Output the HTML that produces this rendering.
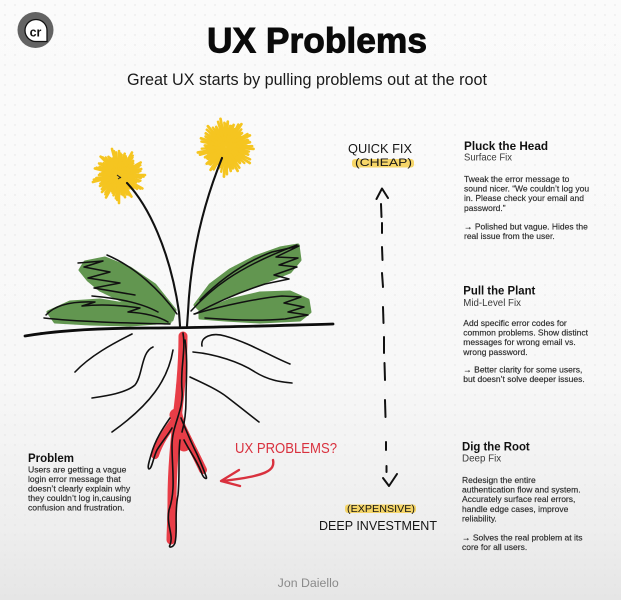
<!DOCTYPE html>
<html>
<head>
<meta charset="utf-8">
<style>
html,body{margin:0;padding:0;}
body{width:621px;height:600px;overflow:hidden;background:#fafafa;}
svg{display:block;}
</style>
</head>
<body>
<svg width="621" height="600" viewBox="0 0 621 600" xmlns="http://www.w3.org/2000/svg" font-family="'Liberation Sans', sans-serif">
  <defs>
    <linearGradient id="bg" x1="0" y1="0" x2="0" y2="1">
      <stop offset="0" stop-color="#fbfbfb"/>
      <stop offset="0.62" stop-color="#f8f8f8"/>
      <stop offset="0.88" stop-color="#eeeeee"/>
      <stop offset="1" stop-color="#e6e6e6"/>
    </linearGradient>
    <pattern id="dots" width="10" height="10" patternUnits="userSpaceOnUse">
      <circle cx="5" cy="5" r="0.7" fill="#dedede"/>
    </pattern>
    <g id="burst" fill="none" stroke="#f5c520" stroke-width="2.6" stroke-linecap="round">
      <path d="M3,0L26,0 M3,1L21.3,5.7 M3,2L23.4,13.5 M2,2L14.1,14.1 M1,3L12.5,21.7 M1,3L6,22.2 M0,3L0,28 M-1,3L-5.4,20.3 M-2,3L-13,22.5 M-2,2L-17,17 M-3,2L-19,11 M-3,1L-26.1,7 M-3,0L-20,0 M-3,-1L-24.1,-6.5 M-3,-2L-19.9,-11.5 M-2,-2L-18.4,-18.4 M-2,-3L-10.5,-18.2 M-1,-3L-7,-26.1 M0,-3L0,-24 M1,-3L5.7,-21.3 M2,-3L13,-22.5 M2,-2L14.1,-14.1 M3,-2L21.7,-12.5 M3,-1L22.2,-6"/>
    </g>
  </defs>

  <!-- background -->
  <rect width="621" height="600" fill="url(#bg)"/>
  <rect width="621" height="600" fill="url(#dots)" opacity="0.8"/>

  <!-- logo -->
  <circle cx="35.5" cy="30" r="18" fill="#636363"/>
  <path d="M25,30.5 A11,11 0 0 1 36,19.5 A11,11 0 0 1 47,30.5 L47,41.5 L36,41.5 A11,11 0 0 1 25,30.5 Z" fill="#fff" stroke="#111" stroke-width="1.3"/>
  <text x="35.5" y="36.5" font-size="12.5" font-weight="bold" fill="#111" text-anchor="middle">cr</text>

  <!-- title -->
  <text x="207" y="52.3" font-size="35" font-weight="bold" fill="#0a0a0a" stroke="#0a0a0a" stroke-width="0.9" textLength="220" lengthAdjust="spacingAndGlyphs">UX Problems</text>
  <text x="127" y="85" font-size="16.2" fill="#1a1a1a" textLength="360" lengthAdjust="spacingAndGlyphs">Great UX starts by pulling problems out at the root</text>

  <!-- flowers -->
  <g transform="translate(119,175)">
    <circle r="10" fill="#f6c829"/>
    <use href="#burst"/>
    <use href="#burst" transform="rotate(8) scale(0.85)"/>
    <use href="#burst" transform="rotate(4) scale(0.95,0.9)"/>
    <use href="#burst" transform="rotate(-5) scale(0.6)"/>
    <use href="#burst" transform="rotate(11) scale(0.4)"/>
  </g>
  <g transform="translate(226,147) scale(1.06)">
    <circle r="10" fill="#f6c829"/>
    <use href="#burst" transform="rotate(4)"/>
    <use href="#burst" transform="rotate(11) scale(0.85)"/>
    <use href="#burst" transform="rotate(-2) scale(0.95,0.92)"/>
    <use href="#burst" transform="rotate(-3) scale(0.6)"/>
    <use href="#burst" transform="rotate(7) scale(0.4)"/>
  </g>
  <path d="M117,175 l4,3 M118,179 l3,-2" stroke="#222" stroke-width="1" fill="none"/>

  <!-- stems -->
  <path d="M127,183 C148,205 170,250 179,312 L180,326" fill="none" stroke="#111" stroke-width="2.1" stroke-linecap="round"/>
  <path d="M222,158 C205,200 191,250 188,312 L187,326" fill="none" stroke="#111" stroke-width="2.1" stroke-linecap="round"/>

  <!-- leaves green -->
  <g fill="#568e42" stroke="#568e42" stroke-width="3" stroke-linejoin="round" opacity="0.92">
    <path d="M85,262 L105,258 L130,268 L155,285 L175,310 L172,320 L150,315 L125,302 L100,290 L88,280 L80,270 Z"/>
    <path d="M48,312 L70,302 L100,300 L130,305 L155,312 L170,322 L130,325 L90,324 L55,322 Z"/>
    <path d="M195,305 L210,285 L230,270 L255,257 L280,248 L298,245 L300,260 L290,272 L270,280 L245,290 L220,300 L200,310 Z"/>
    <path d="M200,312 L230,300 L260,293 L290,292 L308,300 L310,312 L300,320 L260,322 L225,320 L200,318 Z"/>
  </g>
  <!-- leaf scribbles -->
  <g fill="none" stroke="#111" stroke-width="1.5" stroke-linecap="round" stroke-linejoin="round">
    <path d="M107,255 C135,267 160,290 177,314"/>
    <path d="M78,263 L103,261 L84,267 L110,272 L88,278 L120,283 L94,288 L135,295"/>
    <path d="M46,315 C55,305 72,301 95,302 L82,306 C100,304 120,305 140,308 L128,312 C145,313 158,316 168,322"/>
    <path d="M44,318 C80,322 130,323 170,324"/>
    <path d="M92,296 C115,298 140,302 158,312"/>
    <path d="M191,311 C210,290 235,268 297,245"/>
    <path d="M200,300 C220,280 245,262 272,252 L299,246 L276,257 L298,258 L279,265 L297,267 L274,275 L289,279 L265,284 C240,292 215,303 195,314"/>
    <path d="M194,314 C225,305 260,298 282,296 L301,297 L284,303 L304,307 L288,312 L308,315 L285,319 C260,321 230,320 205,318"/>
  </g>

  <!-- ground -->
  <path d="M25,336 C60,330 100,328 150,328 C200,328 260,326 333,324" fill="none" stroke="#0d0d0d" stroke-width="2.8" stroke-linecap="round"/>
  <path d="M40,333 C90,329 150,327 210,327" fill="none" stroke="#0d0d0d" stroke-width="1.2"/>

  <!-- red taproot -->
  <g fill="none" stroke="#e8343e" stroke-linecap="round" opacity="0.95">
    <path d="M183,336 C183,360 181,385 178,410 C175,440 172,470 172,500 C172,520 171,532 171,540" stroke-width="9"/>
    <path d="M175,420 C168,430 160,440 155,455" stroke-width="8"/>
    <path d="M181,425 C188,440 196,455 203,470" stroke-width="8"/>
    <path d="M176,415 L184,445" stroke-width="13"/>
  </g>
  <!-- root outlines -->
  <g fill="none" stroke="#111" stroke-width="1.6" stroke-linecap="round" stroke-linejoin="round">
    <path d="M183,333 C186,350 180,370 182,390 C184,410 172,425 172,445 C172,470 176,490 169,510 C166,525 174,535 170,545 C168,548 173,548 175,543 C178,530 174,515 178,495 C180,475 178,455 180,440"/>
    <path d="M181,418 C186,430 190,440 195,450 C200,460 203,468 206,476 C208,480 204,479 202,474 C198,462 190,452 184,440"/>
    <path d="M170,418 C163,428 155,440 151,455 C149,462 147,468 149,469 C152,469 153,458 157,450 C161,443 168,435 172,428"/>
    <path d="M185,340 C188,360 186,380 186,400 C186,415 184,425 182,432"/>
    <!-- fibrous roots -->
    <path d="M132,334 C112,344 90,356 75,372"/>
    <path d="M153,347 C141,352 143,375 135,385 C126,393 106,396 92,398"/>
    <path d="M173,350 C168,380 150,405 112,432"/>
    <path d="M202,346 C200,337 212,332 225,336 C250,343 270,356 290,364"/>
    <path d="M193,352 C215,354 240,362 255,372 C268,380 280,382 292,383"/>
    <path d="M190,377 C205,384 218,390 227,397 C240,407 250,415 259,422"/>
  </g>

  <!-- UX PROBLEMS? -->
  <text x="235" y="453" font-size="15" fill="#d9313e" textLength="102" lengthAdjust="spacingAndGlyphs">UX PROBLEMS?</text>
  <path d="M273,460 C275,470 268,476 222,481" fill="none" stroke="#d9313e" stroke-width="2.4" stroke-linecap="round"/>
  <path d="M239,470 L221,481 L240,486" fill="none" stroke="#d9313e" stroke-width="2.4" stroke-linecap="round" stroke-linejoin="round"/>

  <!-- dashed arrow -->
  <path d="M381,204 L381.5,217 M382,223 L382,233 M382,247 L382.5,260 M382,273 L383,287 M383,307 L383.5,323 M384,337 L384,353 M384.5,363 L385,380 M385,400 L385.5,417 M386,442 L386,450 M386.5,466 L386.5,472" fill="none" stroke="#111" stroke-width="2" stroke-linecap="round"/>
  <path d="M376.5,199 L382,188.5 L388,198" fill="none" stroke="#111" stroke-width="2" stroke-linecap="round" stroke-linejoin="round"/>
  <path d="M383,478 L389,486 L397,474" fill="none" stroke="#111" stroke-width="2" stroke-linecap="round" stroke-linejoin="round"/>

  <!-- handwritten labels -->
  <text x="348" y="153" font-size="13" fill="#151515" textLength="64" lengthAdjust="spacingAndGlyphs">QUICK FIX</text>
  <rect x="352" y="159" width="62" height="8.5" rx="3" fill="#f4cf4f" opacity="0.85"/>
  <text x="355" y="166" font-size="11" fill="#151515" textLength="57" lengthAdjust="spacingAndGlyphs">(CHEAP)</text>
  <rect x="345" y="504.5" width="71" height="8.5" rx="3" fill="#f4cf4f" opacity="0.85"/>
  <text x="347" y="512" font-size="10.5" fill="#151515" textLength="68" lengthAdjust="spacingAndGlyphs">(EXPENSIVE)</text>
  <text x="319" y="530" font-size="12.5" fill="#151515" textLength="118" lengthAdjust="spacingAndGlyphs">DEEP INVESTMENT</text>

  <!-- right column -->
  <g fill="#111">
    <text x="464" y="150" font-size="11.7" font-weight="bold" textLength="84" lengthAdjust="spacingAndGlyphs">Pluck the Head</text>
    <text x="464" y="160.7" font-size="9.8" fill="#3a3a3a" textLength="48" lengthAdjust="spacingAndGlyphs">Surface Fix</text>
    <g font-size="8.5" fill="#2b2b2b" stroke="#2b2b2b" stroke-width="0.15">
      <text x="464" y="181.8">Tweak the error message to</text>
      <text x="464" y="191.45">sound nicer. “We couldn’t log you</text>
      <text x="464" y="201.1">in. Please check your email and</text>
      <text x="464" y="210.75">password.”</text>
      <text x="464" y="229.3">→ Polished but vague. Hides the</text>
      <text x="464" y="238.9">real issue from the user.</text>
    </g>

    <text x="463.3" y="294.6" font-size="11.5" font-weight="bold" textLength="72" lengthAdjust="spacingAndGlyphs">Pull the Plant</text>
    <text x="463.3" y="306.1" font-size="9.8" fill="#3a3a3a" textLength="57.7" lengthAdjust="spacingAndGlyphs">Mid-Level Fix</text>
    <g font-size="8.5" fill="#2b2b2b" stroke="#2b2b2b" stroke-width="0.15">
      <text x="463.3" y="325.9">Add specific error codes for</text>
      <text x="463.3" y="335.5">common problems. Show distinct</text>
      <text x="463.3" y="345.2">messages for wrong email vs.</text>
      <text x="463.3" y="354.8">wrong password.</text>
      <text x="463.3" y="372.6">→ Better clarity for some users,</text>
      <text x="463.3" y="382.2">but doesn’t solve deeper issues.</text>
    </g>

    <text x="462" y="450.6" font-size="11.5" font-weight="bold" textLength="67.7" lengthAdjust="spacingAndGlyphs">Dig the Root</text>
    <text x="462" y="461.7" font-size="9.8" fill="#3a3a3a">Deep Fix</text>
    <g font-size="8.5" fill="#2b2b2b" stroke="#2b2b2b" stroke-width="0.15">
      <text x="462" y="482.9">Redesign the entire</text>
      <text x="462" y="492.5">authentication flow and system.</text>
      <text x="462" y="502.2">Accurately surface real errors,</text>
      <text x="462" y="511.8">handle edge cases, improve</text>
      <text x="462" y="521.5">reliability.</text>
      <text x="462" y="540.3">→ Solves the real problem at its</text>
      <text x="462" y="549.9">core for all users.</text>
    </g>
  </g>

  <!-- left problem -->
  <text x="28" y="462.1" font-size="11.5" font-weight="bold" fill="#111" textLength="46" lengthAdjust="spacingAndGlyphs">Problem</text>
  <g font-size="8.6" fill="#2b2b2b" stroke="#2b2b2b" stroke-width="0.15">
    <text x="28" y="472.3">Users are getting a vague</text>
    <text x="28" y="481.8">login error message that</text>
    <text x="28" y="491.3">doesn’t clearly explain why</text>
    <text x="28" y="500.8">they couldn’t log in,causing</text>
    <text x="28" y="510.3">confusion and frustration.</text>
  </g>

  <!-- author -->
  <text x="277.7" y="586.8" font-size="12.3" fill="#8a8a8a" textLength="61" lengthAdjust="spacingAndGlyphs">Jon Daiello</text>
</svg>
</body>
</html>
